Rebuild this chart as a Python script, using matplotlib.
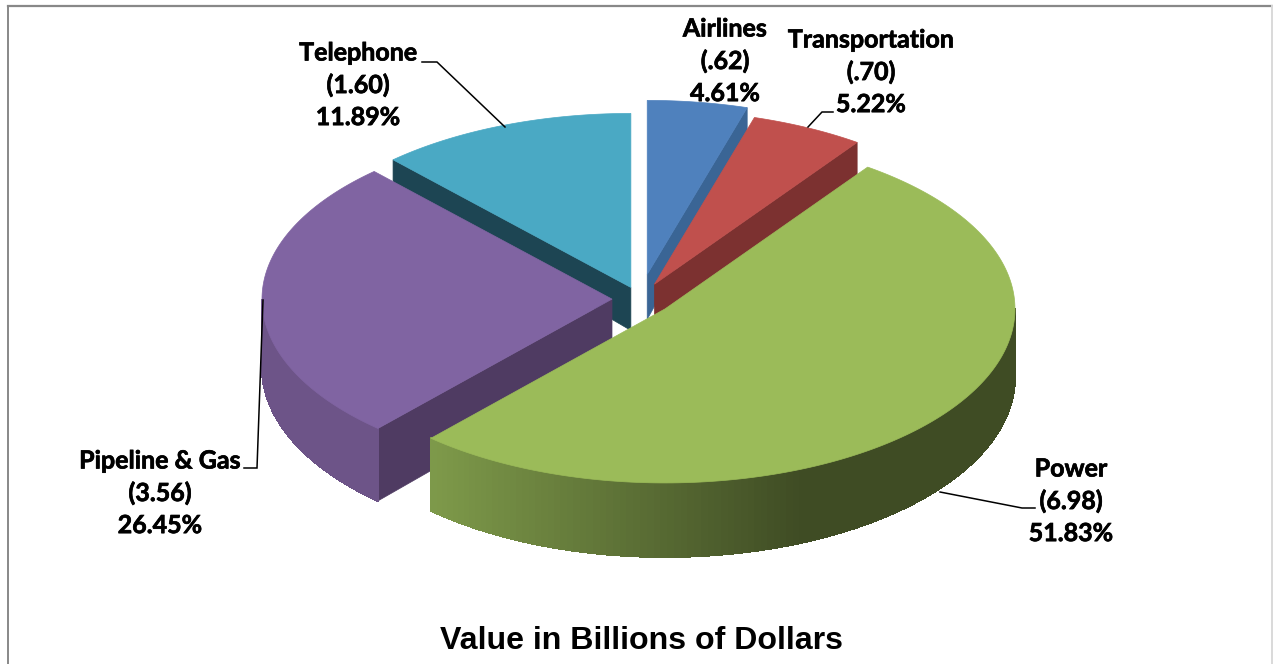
import numpy as np
import matplotlib
matplotlib.use('Agg')
from matplotlib import pyplot as plt
from matplotlib import patheffects as pe
from matplotlib.colors import to_rgb
from matplotlib.patches import Polygon

# data
names = ['Airlines', 'Transportation', 'Power', 'Pipeline & Gas', 'Telephone']
amounts = ['(.62)', '(.70)', '(6.98)', '(3.56)', '(1.60)']
percents = [4.61, 5.22, 51.83, 26.45, 11.89]

# look of the slices
top_colors = ['#4f81bd', '#c0504d', '#9bbb59', '#8064a2', '#4aa9c4']
wall_colors = ['#3a6595', '#7c3130', '#3f4c24', '#4f3b62', '#1d4553']
explode = [50, 33, 32, 28, 25]
wall_h = [45, 45, 68, 68, 43]
ry_low = [189, 189, 180, 180, 189]
draw_order = [4, 0, 1, 3, 2]

cx0, cy0 = 640, 299
rx, ry = 350, 174

# label positions: center x, y of the first line
label_x = [725, 871, 1071, 160, 358]
label_y = [29, 40, 469, 461, 53]
line_gap = 32.3

leaders = [
    ([422, 437, 505], [62, 62, 127]),
    ([833, 822, 808], [112, 112, 127]),
    ([244, 257, 263], [468, 468, 300]),
    ([940, 1022, 1035], [492, 508, 508]),
]

fig = plt.figure(figsize=(12.73, 6.64), dpi=100)
ax = fig.add_axes([0, 0, 1, 1])
ax.set_xlim(0, 1273)
ax.set_ylim(664, 0)
ax.axis('off')

edges = np.radians(np.concatenate([[0], np.cumsum(percents)]) * 3.6)


def top_pt(cx, cy, t):
    return cx + rx * np.sin(t), cy - ry * np.cos(t)


def low_pt(i, cx, cy, t):
    return cx + rx * np.sin(t), cy + wall_h[i] - ry_low[i] * np.cos(t)


def radial_wall(i, cx, cy, t, color, z):
    a = top_pt(cx, cy, t)
    b = low_pt(i, cx, cy, t)
    pts = [(cx, cy), a, b, (cx, cy + wall_h[i])]
    ax.add_patch(Polygon(pts, closed=True, fc=color, ec=color, lw=0.5, zorder=z))


# outer wall is shaded by x, lighter to the left for the big slice
def wall_color(i, x):
    if i == 2:
        f = np.clip((x - 430) / 370, 0, 1)
        return tuple((1 - f) * np.array(to_rgb('#7e9a4a')) + f * np.array(to_rgb(wall_colors[2])))
    if i == 3:
        return '#6d5488'
    return wall_colors[i]


for z, i in enumerate(draw_order):
    t1, t2 = edges[i], edges[i + 1]
    mid = (t1 + t2) / 2
    cx = cx0 + explode[i] * np.sin(mid)
    cy = cy0 - explode[i] * (ry / rx) * np.cos(mid)

    # walls facing the viewer
    if np.sin(t1) < -1e-6:
        radial_wall(i, cx, cy, t1, wall_colors[i], z)
    if np.sin(t2) > 1e-6:
        radial_wall(i, cx, cy, t2, wall_colors[i], z)

    # outer wall, only the front half of the ring shows
    lo, hi = max(t1, np.pi / 2), min(t2, 3 * np.pi / 2)
    if hi > lo:
        ts = np.linspace(lo, hi, 120)
        for a, b in zip(ts[:-1], ts[1:]):
            pts = [top_pt(cx, cy, a), top_pt(cx, cy, b), low_pt(i, cx, cy, b), low_pt(i, cx, cy, a)]
            c = wall_color(i, (pts[0][0] + pts[1][0]) / 2)
            # no antialias here, it leaves stripes between the pieces
            ax.add_patch(Polygon(pts, closed=True, fc=c, ec=c, lw=0.8, antialiased=False, zorder=z))

    # top face
    ts = np.linspace(t1, t2, 200)
    xs, ys = top_pt(cx, cy, ts)
    pts = np.column_stack([np.r_[cx, xs], np.r_[cy, ys]])
    ax.add_patch(Polygon(pts, closed=True, fc=top_colors[i], ec=top_colors[i], lw=0.5, zorder=z + 0.5))

# leader lines
for lx, ly in leaders:
    ax.plot(lx, ly, color='black', lw=1.1, zorder=20, solid_joinstyle='miter')

# labels
for i in range(len(names)):
    lines = [names[i], amounts[i], f'{percents[i]:.2f}%']
    for j, s in enumerate(lines):
        ax.text(label_x[i], label_y[i] + j * line_gap, s, ha='center', va='center',
                fontfamily='Lato', fontweight='bold', fontsize=18, color='black', zorder=30,
                path_effects=[pe.withStroke(linewidth=0.5, foreground='black')])

ax.text(642, 641, 'Value in Billions of Dollars', ha='center', va='center',
        fontfamily='Liberation Sans', fontweight='bold', fontsize=23.1, color='black')

# frame of the chart
ax.plot([7.5, 7.5], [5.5, 664], color='#888888', lw=1.4, zorder=1)
ax.plot([7.5, 1272], [5.5, 5.5], color='#888888', lw=1.6, zorder=1)
ax.plot([1272, 1272], [5.5, 664], color='#d9d9d9', lw=1.4, zorder=1)

fig.savefig('out.png', dpi=100)
